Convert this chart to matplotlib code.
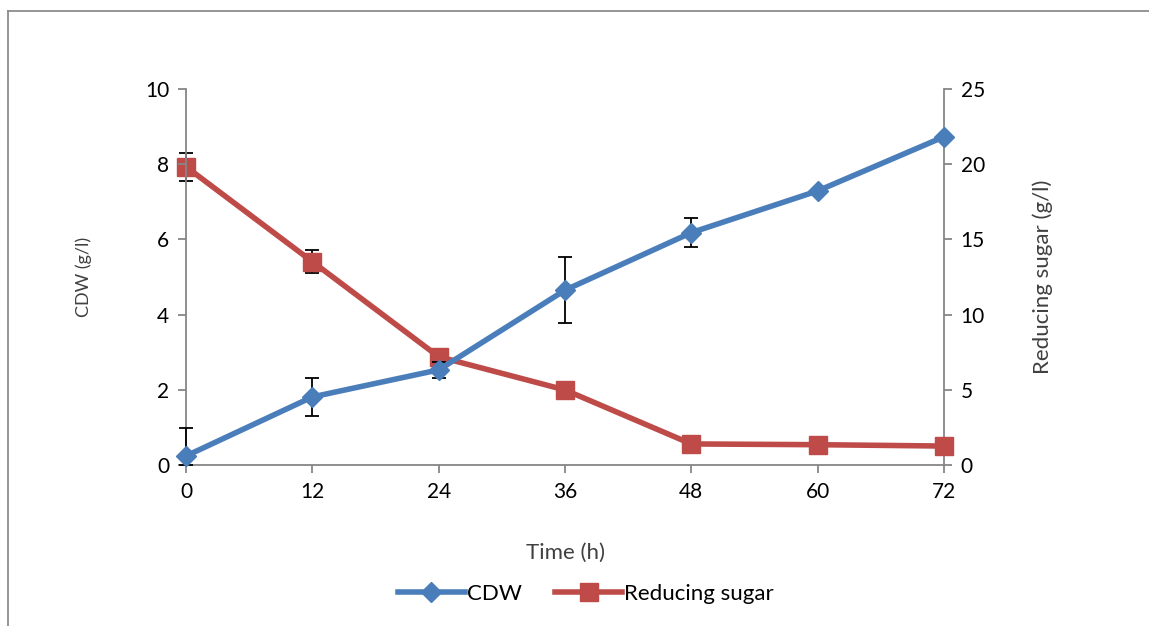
import matplotlib.pyplot as plt
from matplotlib.lines import Line2D

plt.rcParams['font.family'] = ['Lato', 'DejaVu Sans']

# data
time_h = [0, 12, 24, 36, 48, 60, 72]
cdw = [0.24, 1.81, 2.53, 4.65, 6.18, 7.29, 8.73]
cdw_err_lo = [0.24, 0.50, 0.22, 0.88, 0.39, 0.0, 0.0]
cdw_err_hi = [0.74, 0.50, 0.22, 0.88, 0.39, 0.0, 0.0]
sugar = [19.83, 13.52, 7.2, 4.99, 1.40, 1.35, 1.26]
sugar_err = [0.94, 0.77, 0.0, 0.0, 0.0, 0.0, 0.0]

blue = '#4a7ebb'
red = '#be4b48'
gray = '#868686'

fig = plt.figure(figsize=(11.49, 6.26), dpi=100)
ax = fig.add_axes([186 / 1149, 1 - 465 / 626, (944 - 186) / 1149, (465 - 89) / 626])
ax2 = ax.twinx()

# chart border: only the top and left edges show in the reference
fig.lines.append(Line2D([8 / 1149, 8 / 1149], [0, 1 - 11 / 626], transform=fig.transFigure,
                        color='#8c8c8c', lw=1.3))
fig.lines.append(Line2D([8 / 1149, 1], [1 - 11 / 626, 1 - 11 / 626], transform=fig.transFigure,
                        color='#8c8c8c', lw=1.3))

ax.errorbar(time_h, cdw, yerr=[cdw_err_lo, cdw_err_hi], color=blue, lw=4, marker='D', ms=10,
            ecolor='black', elinewidth=1.3, capsize=5, capthick=1.3, zorder=3, clip_on=False)
ax2.errorbar(time_h, sugar, yerr=sugar_err, color=red, lw=4, marker='s', ms=13,
             ecolor='black', elinewidth=1.3, capsize=5, capthick=1.3, zorder=3, clip_on=False)

ax.set_xlim(0, 72)
ax.set_ylim(0, 10)
ax2.set_ylim(0, 25)
ax.set_xticks(time_h)
ax.set_yticks([0, 2, 4, 6, 8, 10])
ax2.set_yticks([0, 5, 10, 15, 20, 25])

for a in (ax, ax2):
    a.spines['top'].set_visible(False)
    for s in ('left', 'right', 'bottom'):
        a.spines[s].set_color(gray)
        a.spines[s].set_linewidth(1.3)
    a.tick_params(colors=gray, width=1.3, length=6, labelsize=15, labelcolor='black', pad=6)
ax.spines['right'].set_visible(False)
ax2.spines['left'].set_visible(False)
ax2.spines['bottom'].set_visible(False)
ax.set_zorder(ax2.get_zorder() + 1)
ax.patch.set_visible(False)

ax.set_xlabel('Time (h)', fontsize=16, color='#404040', labelpad=30)
ax.set_ylabel('CDW (g/l)', fontsize=13, color='#404040', labelpad=38)
ax2.set_ylabel('Reducing sugar (g/l)', fontsize=16, color='#404040', labelpad=34)

handles = [Line2D([], [], color=blue, lw=4, marker='D', ms=10),
           Line2D([], [], color=red, lw=4, marker='s', ms=13)]
fig.legend(handles, ['CDW', 'Reducing sugar'], loc='center', bbox_to_anchor=(0.51, 1 - 594 / 626),
           ncol=2, frameon=False, fontsize=16, handlelength=3, handletextpad=0.1, columnspacing=1.5)

fig.savefig('out.png', dpi=100)
